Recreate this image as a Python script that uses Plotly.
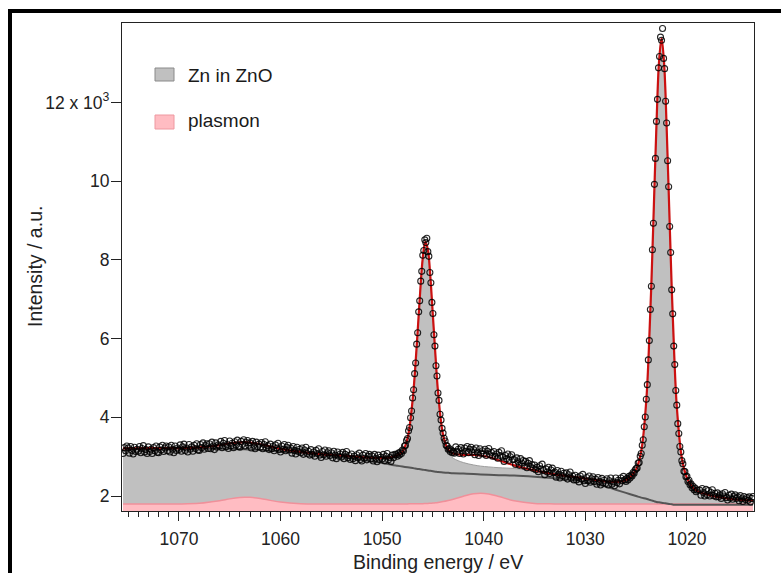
import numpy as np
import plotly.graph_objects as go

# ---------------- measured Zn 2p spectrum (intensity in units of 10^3) ----------------
# segment A : 1075.5 -> 1048.75 eV, step 0.125 eV (rows = one eV each)
seg_a_start, seg_a_step = 1075.5, 0.125
seg_a_counts = [
    3.08, 3.23, 3.15, 3.27,
    3.22, 3.09, 3.26, 3.16, 3.07, 3.24, 3.13, 3.19,
    3.14, 3.26, 3.10, 3.21, 3.28, 3.12, 3.18, 3.08,
    3.25, 3.13, 3.19, 3.08, 3.23, 3.15, 3.27, 3.11,
    3.10, 3.25, 3.17, 3.29, 3.13, 3.22, 3.27, 3.15,
    3.25, 3.12, 3.29, 3.19, 3.10, 3.27, 3.16, 3.22,
    3.18, 3.30, 3.14, 3.25, 3.32, 3.16, 3.22, 3.12,
    3.31, 3.19, 3.25, 3.14, 3.29, 3.21, 3.33, 3.17,
    3.16, 3.31, 3.23, 3.35, 3.19, 3.28, 3.33, 3.21,
    3.33, 3.20, 3.37, 3.27, 3.18, 3.35, 3.24, 3.30,
    3.27, 3.39, 3.23, 3.34, 3.41, 3.25, 3.31, 3.21,
    3.40, 3.28, 3.34, 3.23, 3.38, 3.30, 3.42, 3.26,
    3.24, 3.39, 3.31, 3.43, 3.27, 3.36, 3.41, 3.29,
    3.35, 3.22, 3.39, 3.29, 3.20, 3.37, 3.26, 3.32,
    3.24, 3.36, 3.20, 3.31, 3.38, 3.22, 3.28, 3.18,
    3.32, 3.20, 3.26, 3.15, 3.30, 3.22, 3.34, 3.18,
    3.12, 3.27, 3.19, 3.31, 3.15, 3.24, 3.29, 3.17,
    3.22, 3.09, 3.26, 3.16, 3.07, 3.24, 3.13, 3.19,
    3.10, 3.22, 3.06, 3.17, 3.24, 3.08, 3.14, 3.04,
    3.18, 3.06, 3.12, 3.01, 3.16, 3.08, 3.20, 3.04,
    2.98, 3.13, 3.05, 3.17, 3.01, 3.10, 3.15, 3.03,
    3.10, 2.97, 3.14, 3.04, 2.95, 3.12, 3.01, 3.07,
    2.99, 3.11, 2.95, 3.06, 3.13, 2.97, 3.03, 2.93,
    3.07, 2.95, 3.01, 2.90, 3.05, 2.97, 3.09, 2.93,
    2.89, 3.04, 2.96, 3.08, 2.92, 3.01, 3.06, 2.94,
    3.02, 2.89, 3.06, 2.96, 2.87, 3.04, 2.93, 2.99,
    2.94, 3.06, 2.90, 3.01, 3.08, 2.92, 2.98, 2.88,
    3.04, 2.97, 3.06,
]
# segment B : 1048.6 -> 1042.9 eV, step 0.1 eV (Zn 2p1/2)
seg_b_start, seg_b_step = 1048.6, 0.1
seg_b_counts = [
    3.05, 3.01, 3.09, 3.04, 3.12, 3.08, 3.17,
    3.15, 3.27, 3.29, 3.41, 3.46, 3.66, 3.74, 3.99, 4.16, 4.49,
    4.70, 5.11, 5.38, 5.86, 6.15, 6.68, 6.96, 7.46, 7.71, 8.12,
    8.24, 8.51, 8.44, 8.55, 8.21, 8.09, 7.68, 7.42, 6.92, 6.64,
    6.10, 5.81, 5.31, 5.05, 4.62, 4.43, 4.08, 3.93, 3.72, 3.60,
    3.47, 3.40, 3.29, 3.27, 3.19, 3.21, 3.13, 3.17, 3.10, 3.14,
    3.09,
]
# segment C : 1042.75 -> 1026.25 eV, step 0.125 eV
seg_c_start, seg_c_step = 1042.75, 0.125
seg_c_counts = [
    3.25, 3.13, 3.19, 3.08, 3.23, 3.15,
    3.07, 3.22, 3.14, 3.26, 3.10, 3.19, 3.24, 3.12,
    3.18, 3.05, 3.22, 3.12, 3.03, 3.20, 3.09, 3.15,
    3.07, 3.19, 3.03, 3.14, 3.21, 3.05, 3.11, 3.01,
    3.13, 3.01, 3.07, 2.96, 3.11, 3.03, 3.15, 2.99,
    2.88, 3.03, 2.95, 3.07, 2.91, 3.00, 3.05, 2.93,
    2.93, 2.80, 2.97, 2.87, 2.78, 2.95, 2.84, 2.90,
    2.76, 2.88, 2.72, 2.83, 2.90, 2.74, 2.80, 2.70,
    2.79, 2.67, 2.73, 2.62, 2.77, 2.69, 2.81, 2.65,
    2.54, 2.69, 2.61, 2.73, 2.57, 2.66, 2.71, 2.59,
    2.61, 2.48, 2.65, 2.55, 2.46, 2.63, 2.52, 2.58,
    2.47, 2.59, 2.43, 2.54, 2.61, 2.45, 2.51, 2.41,
    2.53, 2.41, 2.47, 2.36, 2.51, 2.43, 2.55, 2.39,
    2.32, 2.47, 2.39, 2.51, 2.35, 2.44, 2.49, 2.37,
    2.43, 2.30, 2.47, 2.37, 2.28, 2.45, 2.34, 2.40,
    2.32, 2.44, 2.28, 2.39, 2.46, 2.30, 2.36, 2.26,
    2.46, 2.34, 2.40, 2.31, 2.46, 2.39, 2.50,
]
# segment D : 1026.1 -> 1019.0 eV, step 0.1 eV (Zn 2p3/2)
seg_d_start, seg_d_step = 1026.1, 0.1
seg_d_counts = [
    2.41, 2.37,
    2.45, 2.41, 2.50, 2.46, 2.53, 2.51, 2.60, 2.58, 2.66, 2.70,
    2.71, 2.84, 2.85, 3.01, 3.08, 3.29, 3.43, 3.76, 4.01, 4.46,
    4.83, 5.46, 5.95, 6.74, 7.33, 8.26, 8.93, 9.92, 10.58, 11.52,
    12.08, 12.88, 13.17, 13.66, 13.58, 13.88, 13.12, 12.86, 12.03, 11.48,
    10.52, 9.86, 8.85, 8.19, 7.24, 6.63, 5.81, 5.34, 4.68, 4.31,
    3.84, 3.59, 3.26, 3.12, 2.90, 2.82, 2.63, 2.62, 2.49, 2.50,
    2.37, 2.40, 2.29, 2.31, 2.21, 2.25, 2.16, 2.20, 2.11, 2.15,
]
# segment E : 1018.75 -> 1013.5 eV, step 0.125 eV
seg_e_start, seg_e_step = 1018.75, 0.125
seg_e_counts = [
    2.15, 2.02, 2.19, 2.09, 2.00, 2.17,
    2.03, 2.14, 2.00, 2.09, 2.16, 2.01, 2.07, 1.98,
    2.08, 1.98, 2.03, 1.94, 2.06, 2.00, 2.09, 1.96,
    1.90, 2.02, 1.95, 2.05, 1.92, 1.99, 2.03, 1.94,
    1.98, 1.88, 2.01, 1.93, 1.86, 1.99, 1.91, 1.96,
    1.89, 1.98, 1.85, 1.94, 1.99,
]

# ---------------- fit components ----------------
fit_energy = [
    1075.5, 1074, 1072, 1070, 1068, 1066, 1065, 1064, 1063.5, 1063, 1062, 1061, 1060,
    1058, 1056, 1054, 1052, 1051, 1050, 1049, 1048.5, 1048, 1047.5, 1047, 1046.75,
    1046.5, 1046.25, 1046, 1045.75, 1045.5, 1045.25, 1045, 1044.75, 1044.5, 1044,
    1043.5, 1043, 1042, 1041, 1040.3, 1039.5, 1038.5, 1037, 1035, 1033, 1031, 1029,
    1028, 1027, 1026, 1025.5, 1025, 1024.5, 1024, 1023.75, 1023.5, 1023.25, 1023,
    1022.75, 1022.5, 1022.25, 1022, 1021.75, 1021.5, 1021.25, 1021, 1020.5, 1020,
    1019.5, 1019, 1018, 1017, 1016, 1015, 1013.5,
]
fit_background = [
    3.21, 3.21, 3.21, 3.21, 3.21, 3.20, 3.20, 3.19, 3.19, 3.18, 3.17, 3.15, 3.13,
    3.09, 3.03, 2.98, 2.92, 2.88, 2.84, 2.79, 2.77, 2.75, 2.73, 2.71, 2.70,
    2.69, 2.68, 2.67, 2.66, 2.65, 2.64, 2.63, 2.62, 2.61, 2.60,
    2.59, 2.58, 2.57, 2.56, 2.55, 2.54, 2.53, 2.52, 2.49, 2.45, 2.40, 2.30,
    2.24, 2.16, 2.08, 2.04, 2.00, 1.96, 1.93, 1.91, 1.89, 1.87, 1.85,
    1.84, 1.83, 1.82, 1.81, 1.80, 1.79, 1.78, 1.78, 1.78, 1.78,
    1.78, 1.78, 1.78, 1.78, 1.78, 1.78, 1.78,
]
fit_zn_peaks = [
    0.00, 0.00, 0.01, 0.01, 0.01, 0.01, 0.01, 0.01, 0.01, 0.01, 0.01, 0.02, 0.02,
    0.025, 0.035, 0.05, 0.07, 0.09, 0.13, 0.20, 0.27, 0.38, 0.74, 1.72, 2.52,
    3.50, 4.52, 5.37, 5.79, 5.60, 4.90, 3.92, 2.92, 2.01, 0.90,
    0.50, 0.38, 0.28, 0.23, 0.21, 0.20, 0.19, 0.18, 0.15, 0.10, 0.08, 0.11,
    0.13, 0.20, 0.33, 0.46, 0.68, 1.18, 2.50, 3.80, 5.51, 7.55, 9.58,
    11.18, 11.80, 11.18, 9.58, 7.55, 5.51, 3.80, 2.50, 1.18, 0.68,
    0.46, 0.35, 0.26, 0.20, 0.16, 0.13, 0.10,
]
fit_plasmon = [
    0.0, 0.0, 0.0, 0.0, 0.016, 0.08, 0.128, 0.163, 0.17, 0.167, 0.137, 0.09, 0.047,
    0.007, 0.0, 0.0, 0.0, 0.0, 0.0, 0.0, 0.0, 0.0, 0.001, 0.002, 0.003,
    0.004, 0.005, 0.007, 0.010, 0.013, 0.018, 0.023, 0.030, 0.038, 0.059,
    0.087, 0.12, 0.196, 0.256, 0.27, 0.251, 0.188, 0.08, 0.012, 0.001, 0.0, 0.0,
    0.0, 0.0, 0.0, 0.0, 0.0, 0.0, 0.0, 0.0, 0.0, 0.0, 0.0,
    0.0, 0.0, 0.0, 0.0, 0.0, 0.0, 0.0, 0.0, 0.0, 0.0,
    0.0, 0.0, 0.0, 0.0, 0.0, 0.0, 0.0,
]
plasmon_offset = 1.80

y_tick_values = [2, 4, 6, 8, 10, 12]
y_tick_labels = ["2", "4", "6", "8", "10", "12 x 10<sup>3</sup>"]
x_tick_values = [1070, 1060, 1050, 1040, 1030, 1020]
legend_labels = ["Zn in ZnO", "plasmon"]
x_title = "Binding energy / eV"
y_title = "Intensity / a.u."


def seg_energy(start, step, n):
    return np.round(start - step * np.arange(n), 3)


energy = np.concatenate([
    seg_energy(seg_a_start, seg_a_step, len(seg_a_counts)),
    seg_energy(seg_b_start, seg_b_step, len(seg_b_counts)),
    seg_energy(seg_c_start, seg_c_step, len(seg_c_counts)),
    seg_energy(seg_d_start, seg_d_step, len(seg_d_counts)),
    seg_energy(seg_e_start, seg_e_step, len(seg_e_counts)),
])
counts = np.concatenate([seg_a_counts, seg_b_counts, seg_c_counts, seg_d_counts, seg_e_counts])

fe = np.array(fit_energy)
bg = np.array(fit_background)
pk = np.array(fit_zn_peaks)
pl = np.array(fit_plasmon)
zn_top = bg + pk
envelope = bg + pk + pl
plasmon_top = plasmon_offset + pl

FONT = "Liberation Sans, Arial, sans-serif"
TXT = "#222222"
GRAY_FILL = "#c0c0c0"
PINK_FILL = "#ffbcc2"

fig = go.Figure()
fig.add_trace(go.Scatter(x=fe, y=zn_top, mode="lines", fill="tozeroy", fillcolor=GRAY_FILL,
                         line=dict(color="#9c9c9c", width=1, shape="spline"), name=legend_labels[0]))
fig.add_trace(go.Scatter(x=fe, y=plasmon_top, mode="lines", fill="tozeroy", fillcolor=PINK_FILL,
                         line=dict(color="#f0909a", width=1.5, shape="spline"), name=legend_labels[1]))
fig.add_trace(go.Scatter(x=fe, y=bg, mode="lines",
                         line=dict(color="#555555", width=2, shape="spline"), name="background"))
fig.add_trace(go.Scatter(x=fe, y=envelope, mode="lines",
                         line=dict(color="#cc1111", width=2.2, shape="spline"), name="envelope"))
fig.add_trace(go.Scatter(x=energy, y=counts, mode="markers",
                         marker=dict(symbol="circle-open", size=6, color="rgba(0,0,0,0.85)",
                                     line=dict(width=1.1)), name="data"))

W, H = 781, 573
ml, mr, mt, mb = 122, 27, 23, 62
pw, ph = W - ml - mr, H - mt - mb


def px_x(px):
    return (px - ml) / pw


def px_y(py):
    return (H - mb - py) / ph


shapes = [
    # outer frame
    dict(type="rect", xref="paper", yref="paper", x0=px_x(10), x1=px_x(W + 40),
         y0=px_y(H + 40), y1=px_y(11), line=dict(color="black", width=4), fillcolor="rgba(0,0,0,0)"),
    # legend swatches
    dict(type="rect", xref="paper", yref="paper", x0=px_x(155), x1=px_x(174), y0=px_y(81), y1=px_y(68),
         fillcolor=GRAY_FILL, line=dict(color="#8a8a8a", width=1)),
    dict(type="rect", xref="paper", yref="paper", x0=px_x(155), x1=px_x(174), y0=px_y(129), y1=px_y(115),
         fillcolor=PINK_FILL, line=dict(color="#ee98a0", width=1)),
]
annotations = [
    dict(xref="paper", yref="paper", x=px_x(186), y=px_y(75), text=legend_labels[0], showarrow=False,
         xanchor="left", yanchor="middle", font=dict(family=FONT, size=19, color="#1a1a1a")),
    dict(xref="paper", yref="paper", x=px_x(186), y=px_y(121), text=legend_labels[1], showarrow=False,
         xanchor="left", yanchor="middle", font=dict(family=FONT, size=19, color="#1a1a1a")),
    dict(xref="paper", yref="paper", x=px_x(35), y=px_y(266), text=y_title, showarrow=False,
         textangle=-90, xanchor="center", yanchor="middle", font=dict(family=FONT, size=19.5, color=TXT)),
    dict(xref="paper", yref="paper", x=px_x(438), y=px_y(562), text=x_title, showarrow=False,
         xanchor="center", yanchor="middle", font=dict(family=FONT, size=19.5, color=TXT)),
]

fig.update_layout(
    width=W, height=H,
    margin=dict(l=ml, r=mr, t=mt, b=mb, pad=0, autoexpand=False),
    paper_bgcolor="white", plot_bgcolor="white",
    showlegend=False,
    font=dict(family=FONT, color=TXT),
    shapes=shapes, annotations=annotations,
)
fig.update_xaxes(
    range=[1075.6, 1013.4], showgrid=False, zeroline=False, automargin=False,
    showline=True, linecolor=TXT, linewidth=1.2, mirror=True,
    tickvals=x_tick_values, ticks="outside", ticklen=9, tickwidth=1, tickcolor=TXT,
    minor=dict(dtick=1, tick0=1020, ticks="outside", ticklen=5, tickwidth=1, tickcolor=TXT),
    tickfont=dict(family=FONT, size=17.5, color=TXT), ticklabelstandoff=3,
)
fig.update_yaxes(
    range=[1.62, 14.02], showgrid=False, zeroline=False, automargin=False,
    showline=True, linecolor=TXT, linewidth=1.2, mirror=True,
    tickvals=y_tick_values, ticktext=y_tick_labels, ticks="outside", ticklen=10, tickwidth=1,
    tickcolor=TXT, tickfont=dict(family=FONT, size=17.5, color=TXT), ticklabelstandoff=-2,
)

fig.write_html("out.html")
